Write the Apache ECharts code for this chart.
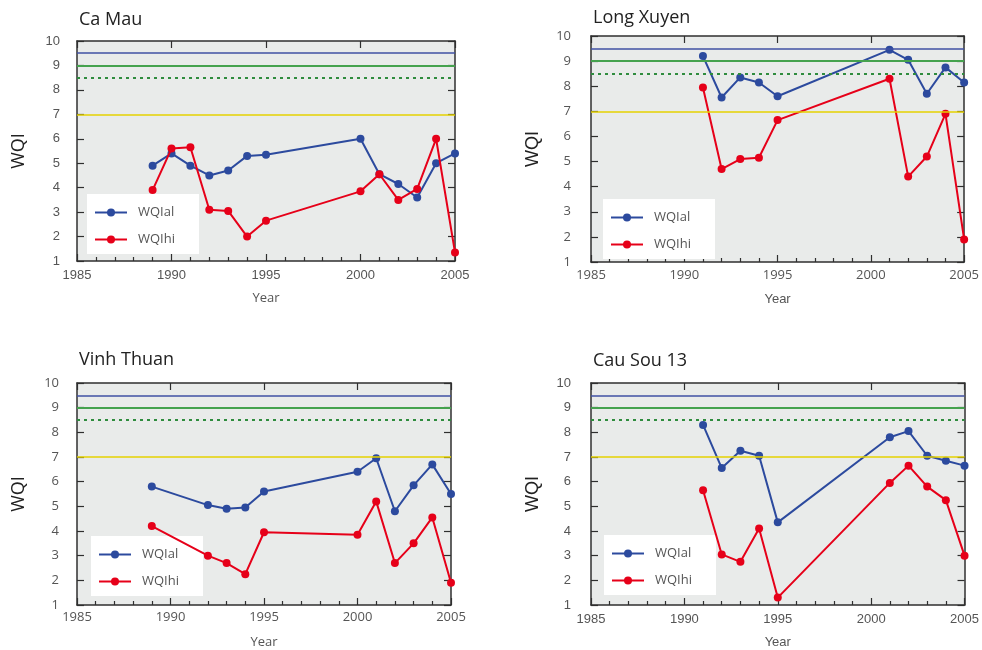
<!DOCTYPE html>
<html>
<head>
<meta charset="utf-8">
<script src="https://cdn.jsdelivr.net/npm/echarts@6/dist/echarts.min.js"></script>
<style>
  html, body { margin: 0; padding: 0; background: #fff; }
  #wrap { position: relative; width: 982px; height: 650px; }
  .panel { position: absolute; left: 0; top: 0; width: 982px; height: 650px; }
</style>
</head>
<body>
<div id="wrap">
  <div class="panel" id="p0"></div>
  <div class="panel" id="p1"></div>
  <div class="panel" id="p2"></div>
  <div class="panel" id="p3"></div>
</div>
<script>
// Station names (one panel each)
const stations = ['Ca Mau', 'Long Xuyen', 'Vinh Thuan', 'Cau Sou 13'];
const seriesNames = ['WQIal', 'WQIhi'];

// Ca Mau
const caMauYears = [1989, 1990, 1991, 1992, 1993, 1994, 1995, 2000, 2001, 2002, 2003, 2004, 2005];
const caMauAl = [4.9, 5.4, 4.9, 4.5, 4.7, 5.3, 5.35, 6.0, 4.55, 4.15, 3.6, 5.0, 5.4];
const caMauHi = [3.9, 5.6, 5.65, 3.1, 3.05, 2.0, 2.65, 3.85, 4.55, 3.5, 3.95, 6.0, 1.35];

// Long Xuyen
const longXuyenYears = [1991, 1992, 1993, 1994, 1995, 2001, 2002, 2003, 2004, 2005];
const longXuyenAl = [9.2, 7.55, 8.35, 8.15, 7.6, 9.45, 9.05, 7.7, 8.75, 8.15];
const longXuyenHi = [7.95, 4.7, 5.1, 5.15, 6.65, 8.3, 4.4, 5.2, 6.9, 1.9];

// Vinh Thuan
const vinhThuanYears = [1989, 1992, 1993, 1994, 1995, 2000, 2001, 2002, 2003, 2004, 2005];
const vinhThuanAl = [5.8, 5.05, 4.9, 4.95, 5.6, 6.4, 6.95, 4.8, 5.85, 6.7, 5.5];
const vinhThuanHi = [4.2, 3.0, 2.7, 2.25, 3.95, 3.85, 5.2, 2.7, 3.5, 4.55, 1.9];

// Cau Sou 13
const cauSouYears = [1991, 1992, 1993, 1994, 1995, 2001, 2002, 2003, 2004, 2005];
const cauSouAl = [8.3, 6.55, 7.25, 7.05, 4.35, 7.8, 8.05, 7.05, 6.85, 6.65];
const cauSouHi = [5.65, 3.05, 2.75, 4.1, 1.3, 5.95, 6.65, 5.8, 5.25, 3.0];

// Reference levels drawn across every panel
const thresholds = [9.5, 9.0, 8.5, 7.0];

// Axis ranges
const yearMin = 1985, yearMax = 2005, yearStep = 5;
const wqiMin = 1, wqiMax = 10, wqiStep = 1;

const panelData = [
  { years: caMauYears, al: caMauAl, hi: caMauHi },
  { years: longXuyenYears, al: longXuyenAl, hi: longXuyenHi },
  { years: vinhThuanYears, al: vinhThuanAl, hi: vinhThuanHi },
  { years: cauSouYears, al: cauSouAl, hi: cauSouHi }
];

// Panel placement on the page
const layout = [
  { left: 77,  top: 41,  width: 378, height: 220, titleTop: 11,  ylPad: 7,  ylMargin: 17, xlMargin: 8, legend: { left: 87, top: 194 } },
  { left: 591, top: 36,  width: 375, height: 226, titleTop: 9,   ylPad: 4,  ylMargin: 20, xlMargin: 7, legend: { left: 603, top: 199 } },
  { left: 77,  top: 383, width: 374, height: 222, titleTop: 351, ylPad: 10, ylMargin: 18, xlMargin: 6, legend: { left: 91, top: 536 } },
  { left: 591, top: 383, width: 375, height: 222, titleTop: 352, ylPad: 10, ylMargin: 20, xlMargin: 6, legend: { left: 604, top: 535 } }
];

// Per-panel text styling options
const styleModes = [
  { nameStyle: true,  labelStyle: false },
  { nameStyle: false, labelStyle: true },
  { nameStyle: true,  labelStyle: true },
  { nameStyle: false, labelStyle: false }
];

const FONT = "'Open Sans', 'Noto Sans', sans-serif";
const BLUE = '#2c4a9e';
const RED = '#e60019';
const FRAME = '#2f2f2f';
const thresholdStyles = [
  { color: '#3f50a3', width: 1.5, type: 'solid' },
  { color: '#45a24e', width: 1.8, type: 'solid' },
  { color: '#2f8c3e', width: 2.2, type: [3, 4] },
  { color: '#e4d200', width: 1.6, type: 'solid' }
];
const plainYear = v => String(v);

function panelOption(i) {
  const p = layout[i];
  const m = styleModes[i];
  const d = panelData[i];

  const side = (pos, isX) => ({
    type: 'value', position: pos,
    min: isX ? yearMin : wqiMin, max: isX ? yearMax : wqiMax, interval: isX ? yearStep : wqiStep,
    axisLine: { show: true, onZero: false, lineStyle: { color: FRAME, width: 1.5 } },
    axisTick: { show: true, inside: true, length: 7, lineStyle: { color: FRAME, width: 1.2 } },
    splitLine: { show: false }
  });

  const xBottom = side('bottom', true);
  xBottom.minorTick = { show: true, splitNumber: 5, length: 4, lineStyle: { color: FRAME, width: 1.2 } };
  xBottom.name = 'Year';
  xBottom.nameLocation = 'middle';
  xBottom.nameGap = 31;
  const xTop = side('top', true);
  xTop.axisLabel = { show: false };
  const yLeft = side('left', false);
  yLeft.name = 'WQI';
  yLeft.nameLocation = 'middle';
  yLeft.nameGap = 49;
  const yRight = side('right', false);
  yRight.axisLabel = { show: false };

  if (m.nameStyle) {
    xBottom.nameTextStyle = { fontFamily: FONT, fontSize: 13, color: '#555' };
    yLeft.nameTextStyle = { fontFamily: FONT, fontSize: 18, color: '#222' };
  } else {
    xBottom.nameTextStyle = { fontSize: 13, color: '#555' };
    yLeft.nameTextStyle = { fontSize: 18, color: '#222' };
  }
  if (m.labelStyle) {
    xBottom.axisLabel = { fontFamily: FONT, fontSize: 13, color: '#555', margin: p.xlMargin, formatter: plainYear };
    yLeft.axisLabel = { fontFamily: FONT, fontSize: 13, color: '#555', margin: p.ylMargin, padding: [0, 0, p.ylPad, 0] };
  } else {
    xBottom.axisLabel = { formatter: plainYear, fontSize: 13, color: '#555' };
    yLeft.axisLabel = { fontSize: 13, color: '#555', margin: p.ylMargin };
  }

  return {
    animation: false,
    title: {
      text: stations[i], left: p.left + 2, top: p.titleTop, padding: 0,
      textStyle: { fontFamily: FONT, fontSize: 18, fontWeight: 'normal', color: '#222' }
    },
    grid: {
      left: p.left, top: p.top, width: p.width, height: p.height,
      show: true, backgroundColor: '#e9ebea', borderWidth: 0
    },
    xAxis: [xBottom, xTop],
    yAxis: [yLeft, yRight],
    legend: {
      data: seriesNames, orient: 'vertical',
      left: p.legend.left, top: p.legend.top,
      backgroundColor: '#ffffff', padding: [12, 24, 8, 7],
      itemWidth: 32, itemHeight: 10, itemGap: 14, selectedMode: false,
      textStyle: { fontFamily: FONT, fontSize: 13, color: '#555', padding: [0, 0, 0, 6] }
    },
    series: [
      {
        name: seriesNames[0], type: 'line',
        data: d.years.map((yr, k) => [yr, d.al[k]]),
        symbol: 'circle', symbolSize: 8,
        lineStyle: { color: BLUE, width: 2 }, itemStyle: { color: BLUE }, z: 3,
        markLine: {
          silent: true, symbol: ['none', 'none'], animation: false, label: { show: false },
          data: thresholds.map((v, k) => ({ yAxis: v, lineStyle: thresholdStyles[k] }))
        }
      },
      {
        name: seriesNames[1], type: 'line',
        data: d.years.map((yr, k) => [yr, d.hi[k]]),
        symbol: 'circle', symbolSize: 8,
        lineStyle: { color: RED, width: 2 }, itemStyle: { color: RED }, z: 4
      }
    ]
  };
}

for (let i = 0; i < 4; i++) {
  echarts.init(document.getElementById('p' + i)).setOption(panelOption(i));
}
</script>
</body>
</html>
